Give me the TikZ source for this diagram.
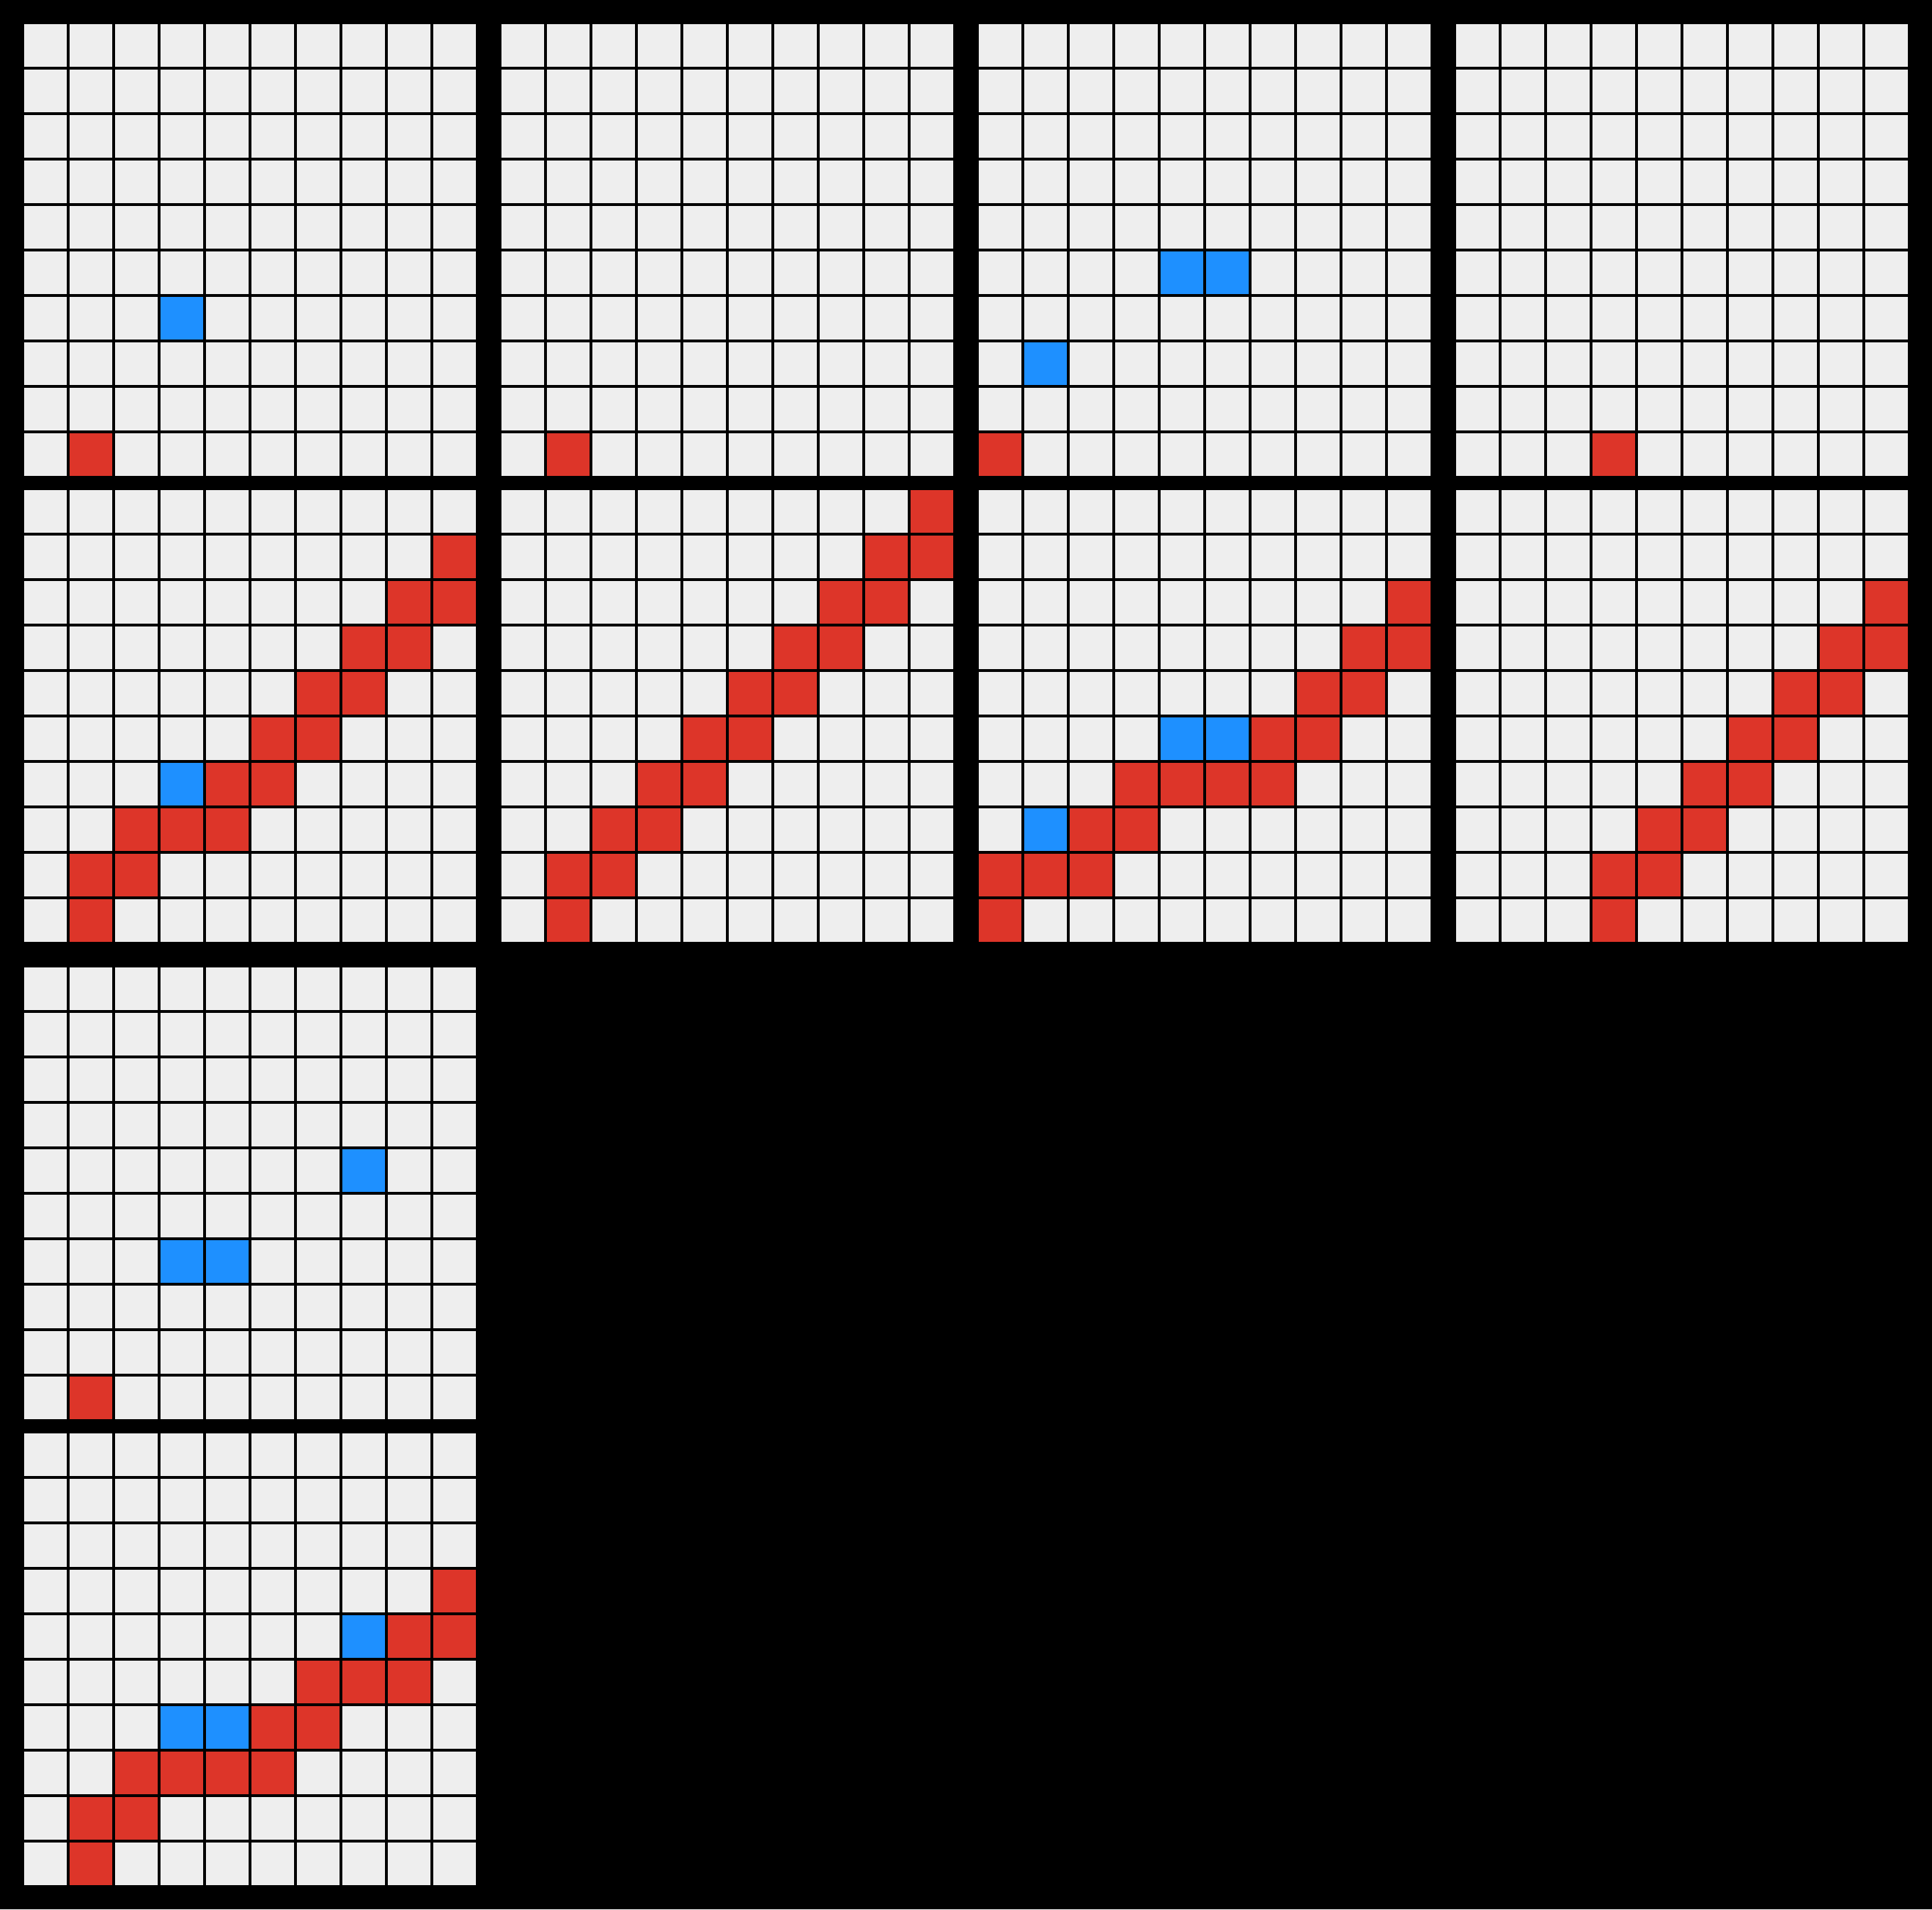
\documentclass[tikz,border=0pt]{standalone}
\definecolor{cellgray}{HTML}{EEEEEE}
\definecolor{cblue}{HTML}{1E90FF}
\definecolor{cred}{HTML}{DD3529}
\tikzset{gridline/.style={line width=0.055cm, black}}
\newcommand\arcgrid[4]{%
  \begin{scope}[shift={(#1,#2)}]
    \fill[cellgray] (0,0) rectangle (10,-10);
    \foreach \r/\c in {#3}{\fill[cred] (\c,-\r) rectangle ++(1,-1);}
    \foreach \r/\c in {#4}{\fill[cblue] (\c,-\r) rectangle ++(1,-1);}
    \foreach \k in {0,...,10}{%
      \draw[gridline] (\k,0) -- (\k,-10);
      \draw[gridline] (0,-\k) -- (10,-\k);}
  \end{scope}}
\begin{document}
\begin{tikzpicture}
\fill[black] (0,0) rectangle (42.5,42);
\useasboundingbox (0,0) rectangle (42.5,42);
% row 1: inputs
\arcgrid{0.5}{41.5}{9/1}{6/3}
\arcgrid{11}{41.5}{9/1}{}
\arcgrid{21.5}{41.5}{9/0}{5/4,5/5,7/1}
\arcgrid{32}{41.5}{9/3}{}
% row 2: outputs
\arcgrid{0.5}{31.25}{9/1,8/1,8/2,7/2,7/3,7/4,6/4,6/5,5/5,5/6,4/6,4/7,3/7,3/8,2/8,2/9,1/9}{6/3}
\arcgrid{11}{31.25}{9/1,8/1,8/2,7/2,7/3,6/3,6/4,5/4,5/5,4/5,4/6,3/6,3/7,2/7,2/8,1/8,1/9,0/9}{}
\arcgrid{21.5}{31.25}{9/0,8/0,8/1,8/2,7/2,7/3,6/3,6/4,6/5,6/6,5/6,5/7,4/7,4/8,3/8,3/9,2/9}{7/1,5/4,5/5}
\arcgrid{32}{31.25}{9/3,8/3,8/4,7/4,7/5,6/5,6/6,5/6,5/7,4/7,4/8,3/8,3/9,2/9}{}
% test
\arcgrid{0.5}{20.75}{9/1}{6/3,6/4,4/7}
\arcgrid{0.5}{10.5}{9/1,8/1,8/2,7/2,7/3,7/4,7/5,6/5,6/6,5/6,5/7,5/8,4/8,4/9,3/9}{6/3,6/4,4/7}
\end{tikzpicture}
\end{document}
